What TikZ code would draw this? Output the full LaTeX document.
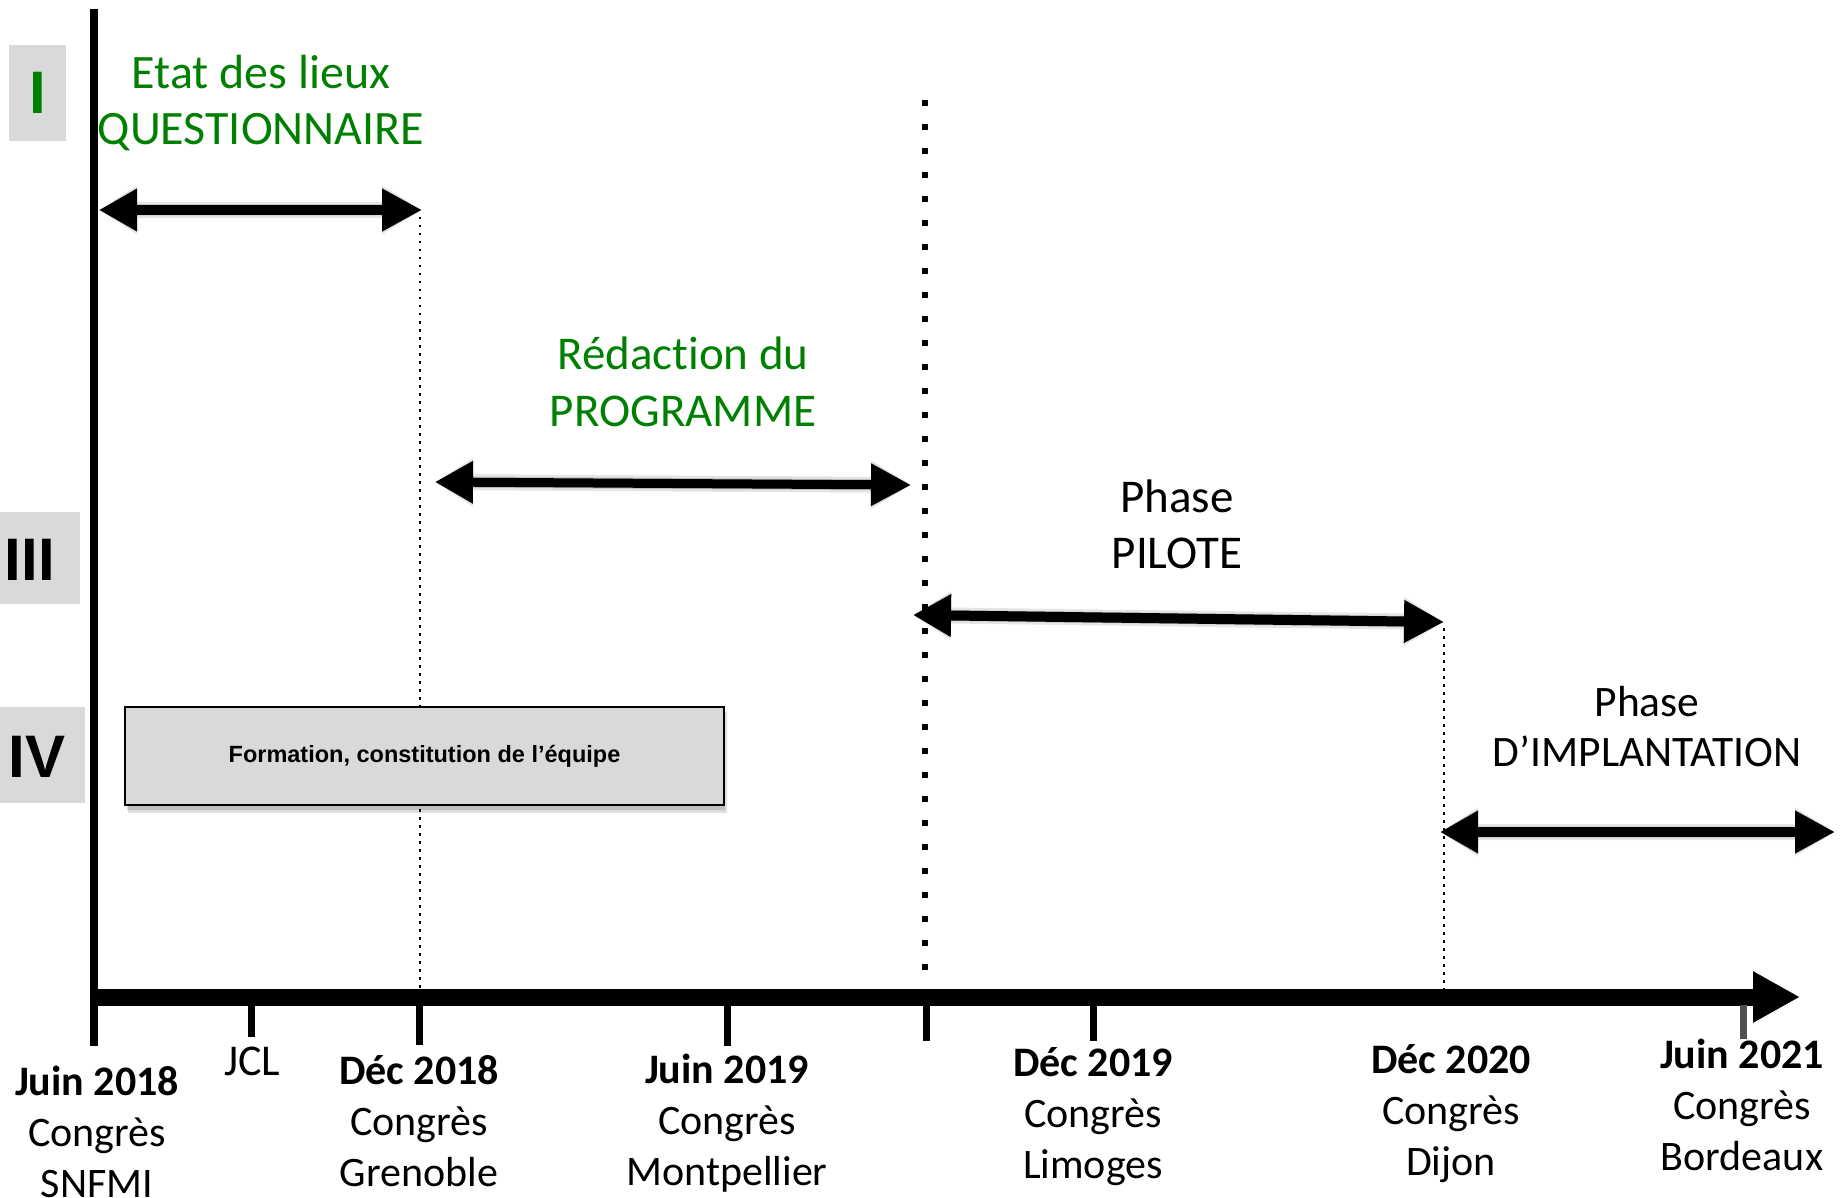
\documentclass[tikz,border=0pt]{standalone}
\usepackage{fontspec}
\setmainfont{Carlito}[Ligatures=NoCommon, RawFeature={-liga;-clig;-calt;-dlig}]
\newfontfamily\numeralfont{Liberation Sans}
\usetikzlibrary{arrows.meta,calc}
\definecolor{phasegreen}{RGB}{0,128,0}
\definecolor{panelgray}{RGB}{217,217,217}
\definecolor{tickgray}{RGB}{80,80,80}
\tikzset{
  phasearrow/.style={line width=10pt,
    {Triangle[length=38pt,width=40pt]}-{Triangle[length=40pt,width=40pt]}},
  shadearrow/.style={line width=#1,
    {Triangle[length=38pt,width=40pt+#1-10pt]}-{Triangle[length=40pt,width=40pt+#1-10pt]}},
  greentext/.style={align=center, text=phasegreen, inner sep=0pt},
  blacktext/.style={align=center, text=black, inner sep=0pt},
  datelabel/.style={align=center, inner sep=0pt, font=\fontsize{42}{51}\selectfont},
  numeral/.style={inner sep=0pt, font=\numeralfont\bfseries\fontsize{60}{60}\selectfont},
  tickmark/.style={line width=7pt},
  thindots/.style={line width=2.5pt, dash pattern=on 2.5pt off 5.5pt},
  thickdots/.style={line width=6pt, dash pattern=on 6pt off 18pt},
}
% soft drop shadow under a double arrow
\newcommand\arrowshadow[2]{%
  \begin{scope}[transparency group, opacity=0.10, shift={(4,8)}]
    \draw[shadearrow=16pt, draw=black] (#1) -- (#2);
  \end{scope}
  \begin{scope}[transparency group, opacity=0.18, shift={(3,6)}]
    \draw[shadearrow=11pt, draw=black] (#1) -- (#2);
  \end{scope}}
\begin{document}
\begin{tikzpicture}[x=1pt, y=-1pt]
  \useasboundingbox[fill=white] (0,0) rectangle (1847,1198);

  % phase numerals on the left
  \fill[panelgray] (9,45) rectangle (66,141);
  \node[numeral, text=phasegreen] (nI) at (38,93) {I};
  \fill[panelgray] (0,512) rectangle (80,604);
  \node[numeral] (nIII) at (30,560) {III};
  \fill[panelgray] (0,707) rectangle (85,803);
  \node[numeral] (nIV) at (37,757) {IV};

  % dotted guide lines
  \coordinate (g1t) at (420,217);
  \coordinate (g1b) at (420,990);
  \draw[thindots] (g1t) -- (g1b);
  \coordinate (g2t) at (1444,628);
  \coordinate (g2b) at (1444,990);
  \draw[thindots] (g2t) -- (g2b);
  \coordinate (g3t) at (925,100);
  \coordinate (g3b) at (925,972);
  \draw[thickdots] (g3t) -- (g3b);

  % time axes
  \draw[line width=8pt] (94,9) -- (94,1046);
  \coordinate (ax0) at (90,997);
  \coordinate (ax1) at (1800,997);
  \draw[line width=17pt, -{Triangle[length=47pt,width=48pt]}] (ax0) -- (ax1);

  % ticks
  \draw[tickmark] (251,1000) -- (251,1037);
  \draw[tickmark] (419,1000) -- (419,1045);
  \draw[tickmark] (727,1000) -- (727,1046);
  \draw[tickmark] (926,1000) -- (926,1041);
  \draw[tickmark] (1093,1000) -- (1093,1041);
  \draw[tickmark, draw=tickgray] (1743,1005) -- (1743,1039);

  % formation box
  \begin{scope}[transparency group, opacity=0.12]
    \fill[black] (128,712) rectangle (727,813);
  \end{scope}
  \begin{scope}[transparency group, opacity=0.15]
    \fill[black] (127,711) rectangle (725,810);
  \end{scope}
  \node[draw=black, line width=2.5pt, fill=panelgray, minimum width=599pt, minimum height=98pt,
        inner sep=0pt, font=\numeralfont\bfseries\fontsize{23.5}{28}\selectfont] (form) at (424.5,756)
        {Formation, constitution de l’équipe};

  % phase arrows
  \coordinate (a1l) at (99,210);
  \coordinate (a1r) at (422,210);
  \arrowshadow{a1l}{a1r}
  \draw[phasearrow] (a1l) -- (a1r);

  \coordinate (a2l) at (435,482);
  \coordinate (a2r) at (911,485);
  \arrowshadow{a2l}{a2r}
  \draw[phasearrow, line width=9pt] (a2l) -- (a2r);

  \coordinate (a3l) at (913,615);
  \coordinate (a3r) at (1444,622);
  \arrowshadow{a3l}{a3r}
  \draw[phasearrow] (a3l) -- (a3r);

  \coordinate (a4l) at (1440,832);
  \coordinate (a4r) at (1835,832);
  \arrowshadow{a4l}{a4r}
  \draw[phasearrow] (a4l) -- (a4r);

  % phase titles
  \node[greentext, font=\fontsize{48}{56}\selectfont] (etat) at (261,103) {Etat des lieux\\QUESTIONNAIRE};
  \node[greentext, font=\fontsize{47}{57}\selectfont] (redac) at (683,382) {Rédact\kern0pt ion du\\PROGRAMME};
  \node[blacktext, font=\fontsize{47}{56}\selectfont] (pilote) at (1177,524) {Phase\\PILOTE};
  \node[blacktext, font=\fontsize{43.5}{50}\selectfont] (implant) at (1647,727) {Phase\\D’IMPLANTATION};

  % dates
  \node[datelabel] (d1) at (97,1132) {\textbf{Juin 2018}\\Congrès\\SNFMI};
  \node[font=\fontsize{44}{50}\selectfont, inner sep=0pt] (jcl) at (252,1061) {JCL};
  \node[datelabel] (d2) at (419,1121) {\textbf{Déc 2018}\\Congrès\\Grenoble};
  \node[datelabel] (d3) at (727,1123) {\textbf{Juin 2019}\\Congrès\\Montpellier};
  \node[datelabel] (d4) at (1093,1117) {\textbf{Déc 2019}\\Congrès\\Limoges};
  \node[datelabel] (d5) at (1451,1114) {\textbf{Déc 2020}\\Congrès\\Dijon};
  \node[datelabel] (d6) at (1742,1105) {\textbf{Juin 2021}\\Congrès\\Bordeaux};
\end{tikzpicture}
\end{document}
